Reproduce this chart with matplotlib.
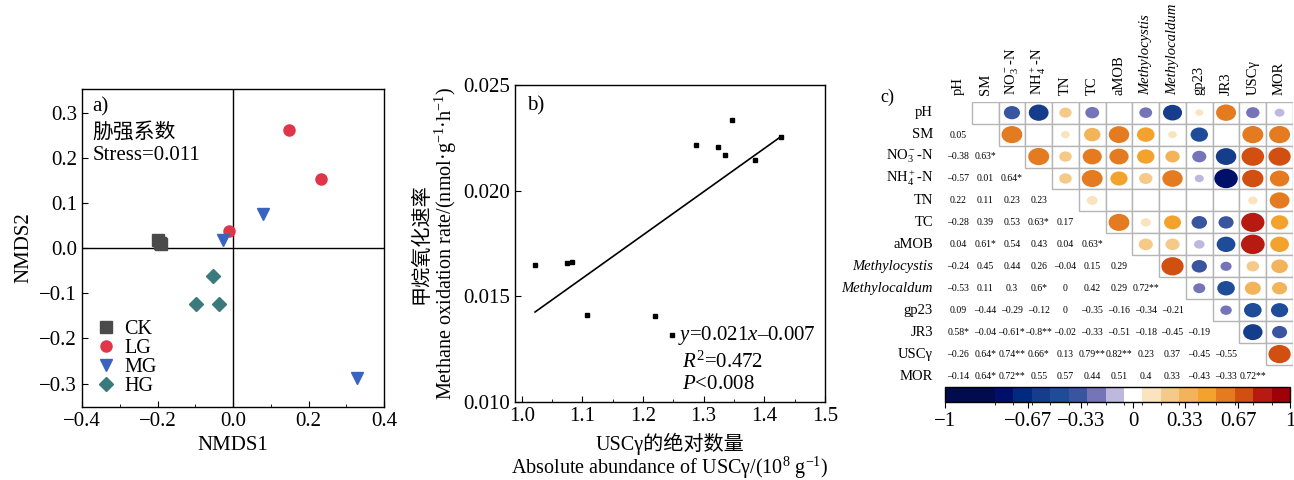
import numpy as np
import matplotlib
matplotlib.use('Agg')
import matplotlib.pyplot as plt
from matplotlib.patches import Rectangle, Ellipse
from matplotlib.colors import ListedColormap, BoundaryNorm
from matplotlib.ticker import MultipleLocator
import matplotlib.colorbar as mcolorbar

plt.rcParams['font.family'] = ['Liberation Serif', 'Noto Sans CJK SC']
plt.rcParams['mathtext.fontset'] = 'custom'
plt.rcParams['mathtext.rm'] = 'Liberation Serif'
plt.rcParams['mathtext.it'] = 'Liberation Serif:italic'
plt.rcParams['axes.linewidth'] = 1.0

# --- a) NMDS ---
ck_x = [-0.198, -0.191, -0.194]
ck_y = [0.017, 0.008, 0.012]
lg_x = [0.147, 0.232, -0.011]
lg_y = [0.262, 0.152, 0.038]
mg_x = [0.080, -0.027, 0.328]
mg_y = [0.076, 0.017, -0.288]
hg_x = [-0.054, -0.098, -0.038]
hg_y = [-0.063, -0.123, -0.123]

# --- b) USCγ vs methane oxidation rate ---
usc_abund = [1.022, 1.075, 1.083, 1.108, 1.220, 1.247, 1.287, 1.323, 1.335, 1.347, 1.384, 1.428]
mor_rate = [0.01650, 0.01656, 0.01662, 0.01409, 0.01404, 0.01314,
            0.02216, 0.02207, 0.02169, 0.02335, 0.02144, 0.02253]
fit_slope = 0.0205
fit_intercept = -0.0067

# --- c) correlation matrix (lower triangle as printed) ---
corr_names = ['pH', 'SM', r'NO$_3^-$-N', r'NH$_4^+$-N', 'TN', 'TC', 'aMOB',
              'Methylocystis', 'Methylocaldum', 'gp23', 'JR3', 'USCγ', 'MOR']
italic_names = ['Methylocystis', 'Methylocaldum']
corr_lower = [
    [],
    ['0.05'],
    ['-0.38', '0.63*'],
    ['-0.57', '0.01', '0.64*'],
    ['0.22', '0.11', '0.23', '0.23'],
    ['-0.28', '0.39', '0.53', '0.63*', '0.17'],
    ['0.04', '0.61*', '0.54', '0.43', '0.04', '0.63*'],
    ['-0.24', '0.45', '0.44', '0.26', '-0.04', '0.15', '0.29'],
    ['-0.53', '0.11', '0.3', '0.6*', '0', '0.42', '0.29', '0.72**'],
    ['0.09', '-0.44', '-0.29', '-0.12', '0', '-0.35', '-0.16', '-0.34', '-0.21'],
    ['0.58*', '-0.04', '-0.61*', '-0.8**', '-0.02', '-0.33', '-0.51', '-0.18', '-0.45', '-0.19'],
    ['-0.26', '0.64*', '0.74**', '0.66*', '0.13', '0.79**', '0.82**', '0.23', '0.37', '-0.45', '-0.55'],
    ['-0.14', '0.64*', '0.72**', '0.55', '0.57', '0.44', '0.51', '0.4', '0.33', '-0.43', '-0.33', '0.72**'],
]
cbar_colors = ['#020b4e', '#00106a', '#002a80', '#163c8c', '#1f4c98', '#3a55a0', '#7674b8', '#bcb8de',
               '#ffffff', '#fae3be', '#f5ca88', '#f2b35a', '#f3a22e', '#e57b20', '#d24f12', '#b71a10', '#a00008']
cbar_bounds = [-1.2, -0.8824, -0.7647, -0.6471, -0.5294, -0.4118, -0.2941, -0.1765, -0.0588,
               0.0588, 0.1765, 0.2941, 0.4118, 0.5294, 0.6471, 0.7647, 0.8824, 1.0]
cbar_ticks = [-1.2, -0.67, -0.33, 0, 0.33, 0.67, 1.0]
cbar_ticklabels = ['−1', '−0.67', '−0.33', '0', '0.33', '0.67', '1']

fig = plt.figure(figsize=(12.94, 4.8), dpi=100)
fs = 15

# ================= panel a =================
ax1 = fig.add_axes([0.0634, 0.152, 0.2334, 0.6625])
ax1.axhline(0, color='black', lw=1.0, zorder=1)
ax1.axvline(0, color='black', lw=1.0, zorder=1)
ax1.plot(ck_x, ck_y, 's', color='#4a4a4a', ms=8, ls='none', label='CK')
ax1.plot(lg_x, lg_y, 'o', color='#e0364a', ms=8, ls='none', label='LG')
ax1.plot(mg_x, mg_y, 'v', color='#3a63c0', ms=9, ls='none', label='MG')
ax1.plot(hg_x, hg_y, 'D', color='#3a7a7c', ms=7.5, ls='none', label='HG')
ax1.set_xlim(-0.4, 0.4)
ax1.set_ylim(-0.352, 0.352)
ax1.xaxis.set_minor_locator(MultipleLocator(0.1))
ax1.set_xticks([-0.4, -0.2, 0.0, 0.2, 0.4])
ax1.set_xticklabels(['−0.4', '−0.2', '0.0', '0.2', '0.4'])
ax1.set_yticks([-0.3, -0.2, -0.1, 0.0, 0.1, 0.2, 0.3])
ax1.set_yticklabels(['−0.3', '−0.2', '−0.1', '0.0', '0.1', '0.2', '0.3'])
ax1.tick_params(direction='in', labelsize=fs, length=4)
ax1.tick_params(which='minor', direction='in', length=2.5)
ax1.set_xlabel('NMDS1', fontsize=fs, labelpad=4)
ax1.set_ylabel('NMDS2', fontsize=fs, labelpad=4)
ax1.text(0.035, 0.975, 'a)', transform=ax1.transAxes, fontsize=fs, va='top')
ax1.text(0.035, 0.895, '胁强系数', transform=ax1.transAxes, fontsize=fs, va='top')
ax1.text(0.035, 0.82, 'Stress=0.011', transform=ax1.transAxes, fontsize=fs, va='top')
ax1.legend(loc='lower left', bbox_to_anchor=(0.0, -0.01), frameon=False, fontsize=14.5,
           handlelength=1.0, handletextpad=0.4, labelspacing=0.0, borderaxespad=0.3)

# ================= panel b =================
ax2 = fig.add_axes([0.398, 0.163, 0.2396, 0.6598])
ax2.plot(usc_abund, mor_rate, 's', color='black', ms=3.5, ls='none')
xfit = np.array([min(usc_abund), max(usc_abund)])
ax2.plot(xfit, fit_slope * xfit + fit_intercept, color='black', lw=1.2)
ax2.set_xlim(0.989, 1.5)
ax2.set_ylim(0.010, 0.025)
ax2.set_xticks([1.0, 1.1, 1.2, 1.3, 1.4, 1.5])
ax2.xaxis.set_minor_locator(MultipleLocator(0.05))
ax2.set_yticks([0.010, 0.015, 0.020, 0.025])
ax2.set_yticklabels(['0.010', '0.015', '0.020', '0.025'])
ax2.tick_params(direction='in', labelsize=fs, length=4)
ax2.tick_params(which='minor', direction='in', length=2.5)
ax2.set_xlabel('USCγ的绝对数量\nAbsolute abundance of USCγ/(10$^{8}$ g$^{-1}$)',
               fontsize=14.5, linespacing=1.0, labelpad=5)
ax2.set_ylabel('甲烷氧化速率\nMethane oxidation rate/(nmol·g$^{-1}$·h$^{-1}$)',
               fontsize=14.5, linespacing=1.1, labelpad=3)
ax2.text(0.04, 0.965, 'b)', transform=ax2.transAxes, fontsize=fs, va='top')
ax2.text(0.525, 0.21, '$y$=0.021$x$–0.007', transform=ax2.transAxes, fontsize=fs, va='center')
ax2.text(0.537, 0.125, '$R^2$=0.472', transform=ax2.transAxes, fontsize=fs, va='center')
ax2.text(0.537, 0.055, '$P$<0.008', transform=ax2.transAxes, fontsize=fs, va='center')

# ================= panel c =================
n = len(corr_names)
corr = np.eye(n)
corr_txt = [[''] * n for _ in range(n)]
for i, row in enumerate(corr_lower):
    for j, s in enumerate(row):
        v = float(s.rstrip('*'))
        corr[i, j] = v
        corr[j, i] = v
        corr_txt[i][j] = s.replace('-', '–')

cmap = ListedColormap(cbar_colors)
norm = BoundaryNorm(cbar_bounds, cmap.N)

ax3 = fig.add_axes([0.7303, 0.19375, 0.2689, 0.5944])
ax3.set_xlim(0, n)
ax3.set_ylim(n, 0)
ax3.axis('off')
for i in range(n):
    for j in range(n):
        if j > i:
            ax3.add_patch(Rectangle((j, i), 1, 1, facecolor='white', edgecolor='#b5b5b5', lw=1.0))
            r = corr[i, j]
            d = np.sqrt(abs(r)) * 0.98
            if d > 0:
                ax3.add_patch(Ellipse((j + 0.5, i + 0.5), d, d, facecolor=cmap(norm(r)),
                                      edgecolor='none', zorder=3))
        elif j < i:
            ax3.text(j + 0.5, i + 0.52, corr_txt[i][j], ha='center', va='center', fontsize=7)

for k, name in enumerate(corr_names):
    style = 'italic' if name in italic_names else 'normal'
    ax3.text(-0.45, k + 0.5, name, ha='right', va='center', fontsize=10.5, fontstyle=style)
    ax3.text(k + 0.5, -0.3, name, ha='center', va='bottom', rotation=90, fontsize=10.5, fontstyle=style)
fig.text(0.680, 0.797, 'c)', fontsize=13, va='center')

cax = fig.add_axes([0.7303, 0.1625, 0.2666, 0.03125])
cb = mcolorbar.ColorbarBase(cax, cmap=cmap, norm=norm, boundaries=cbar_bounds,
                            orientation='horizontal', spacing='proportional', ticks=cbar_ticks)
cb.set_ticklabels(cbar_ticklabels)
cb.ax.tick_params(labelsize=15, length=4, direction='out')
cb.outline.set_linewidth(1.0)

fig.savefig('out.png', dpi=100)
